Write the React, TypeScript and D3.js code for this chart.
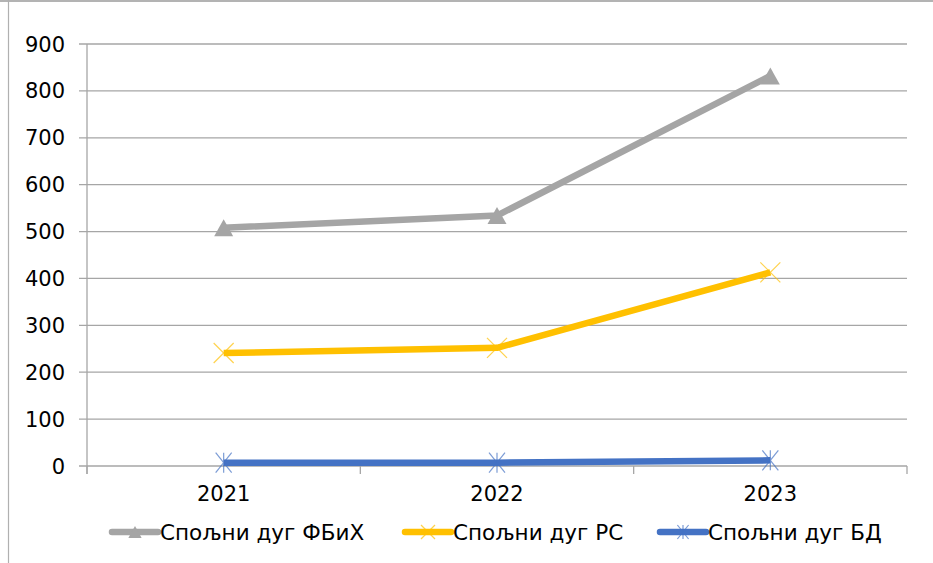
import React from "react";
import * as d3 from "d3";

const years = ["2021", "2022", "2023"];
const fbih = [508, 534, 832];
const rs = [241, 252, 413];
const bd = [7, 7, 12];
const yTicks = [0, 100, 200, 300, 400, 500, 600, 700, 800, 900];
const seriesNames = ["Спољни дуг ФБиХ", "Спољни дуг РС", "Спољни дуг БД"];
const seriesColors = ["#A5A5A5", "#FFC000", "#4472C4"];
const seriesMarkers = ["triangle", "x", "star"];

const W = 933;
const H = 563;
const left = 87;
const right = 907;
const top = 44;
const bottom = 466;
const FONT = "DejaVu Sans, Verdana, sans-serif";

function Marker({ type, x, y, color, size = 1 }: { type: string; x: number; y: number; color: string; size?: number }) {
  if (type === "triangle") {
    const h = 17 * size, w = 19 * size;
    return <path d={`M${x},${y - h / 2} L${x + w / 2},${y + h / 2} L${x - w / 2},${y + h / 2} Z`} fill={color} />;
  }
  if (type === "x") {
    const r = 10 * size;
    return (
      <g stroke={color} strokeWidth={1.2} opacity={0.7}>
        <line x1={x - r} y1={y - r} x2={x + r} y2={y + r} />
        <line x1={x - r} y1={y + r} x2={x + r} y2={y - r} />
      </g>
    );
  }
  const r = 10 * size;
  return (
    <g stroke={color} strokeWidth={1.2} opacity={0.7}>
      <line x1={x - r * 0.8} y1={y - r} x2={x + r * 0.8} y2={y + r} />
      <line x1={x - r * 0.8} y1={y + r} x2={x + r * 0.8} y2={y - r} />
      <line x1={x} y1={y - r} x2={x} y2={y + r} />
    </g>
  );
}

export default function App() {
  const x = d3.scaleBand().domain(years).range([left, right]);
  const y = d3.scaleLinear().domain([0, 900]).range([bottom, top]);
  const cx = (d: string) => (x(d) as number) + x.bandwidth() / 2;
  const line = d3
    .line<number>()
    .x((_, i) => cx(years[i]))
    .y((v) => y(v));
  const data = [fbih, rs, bd];
  const boundaries = [left, ...years.map((d) => (x(d) as number) + x.bandwidth())];
  const legendX = [112, 405, 660];
  const legendY = 532;

  return (
    <svg width={W} height={H} style={{ position: "absolute", left: 0, top: 0 }}>
      <rect x={0} y={0} width={W} height={H} fill="#fff" />
      <line x1={0} x2={W} y1={1} y2={1} stroke="#9a9a9a" strokeWidth={1.5} />
      <line x1={8.5} x2={8.5} y1={0} y2={H} stroke="#b0b0b0" strokeWidth={1.2} />
      {yTicks.map((t) => (
        <g key={t}>
          <line x1={left - 8} x2={right} y1={y(t)} y2={y(t)} stroke="#a6a6a6" strokeWidth={1.3} />
          <text x={65} y={y(t)} dy="0.36em" textAnchor="end" fontFamily={FONT} fontSize={21} fill="#000">
            {t}
          </text>
        </g>
      ))}
      <line x1={left} x2={left} y1={top} y2={bottom + 8} stroke="#a6a6a6" strokeWidth={1.3} />
      {boundaries.map((b, i) => (
        <line key={i} x1={b} x2={b} y1={bottom} y2={bottom + 8} stroke="#a6a6a6" strokeWidth={1.3} />
      ))}
      {years.map((d) => (
        <text key={d} x={cx(d)} y={493} dy="0.36em" textAnchor="middle" fontFamily={FONT} fontSize={21} fill="#000">
          {d}
        </text>
      ))}
      {data.map((s, si) => (
        <g key={si}>
          <path d={line(s) || ""} fill="none" stroke={seriesColors[si]} strokeWidth={6.5} strokeLinejoin="round" />
          {s.map((v, i) => (
            <Marker key={i} type={seriesMarkers[si]} x={cx(years[i])} y={y(v)} color={seriesColors[si]} />
          ))}
        </g>
      ))}
      {seriesNames.map((n, i) => (
        <g key={n}>
          <line x1={legendX[i]} x2={legendX[i] + 46} y1={legendY} y2={legendY} stroke={seriesColors[i]} strokeWidth={6.5} strokeLinecap="round" />
          <Marker type={seriesMarkers[i]} x={legendX[i] + 23} y={legendY} color={seriesColors[i]} size={0.7} />
          <text x={legendX[i] + 48} y={legendY} dy="0.36em" fontFamily={FONT} fontSize={21.5} fill="#000">
            {n}
          </text>
        </g>
      ))}
    </svg>
  );
}
